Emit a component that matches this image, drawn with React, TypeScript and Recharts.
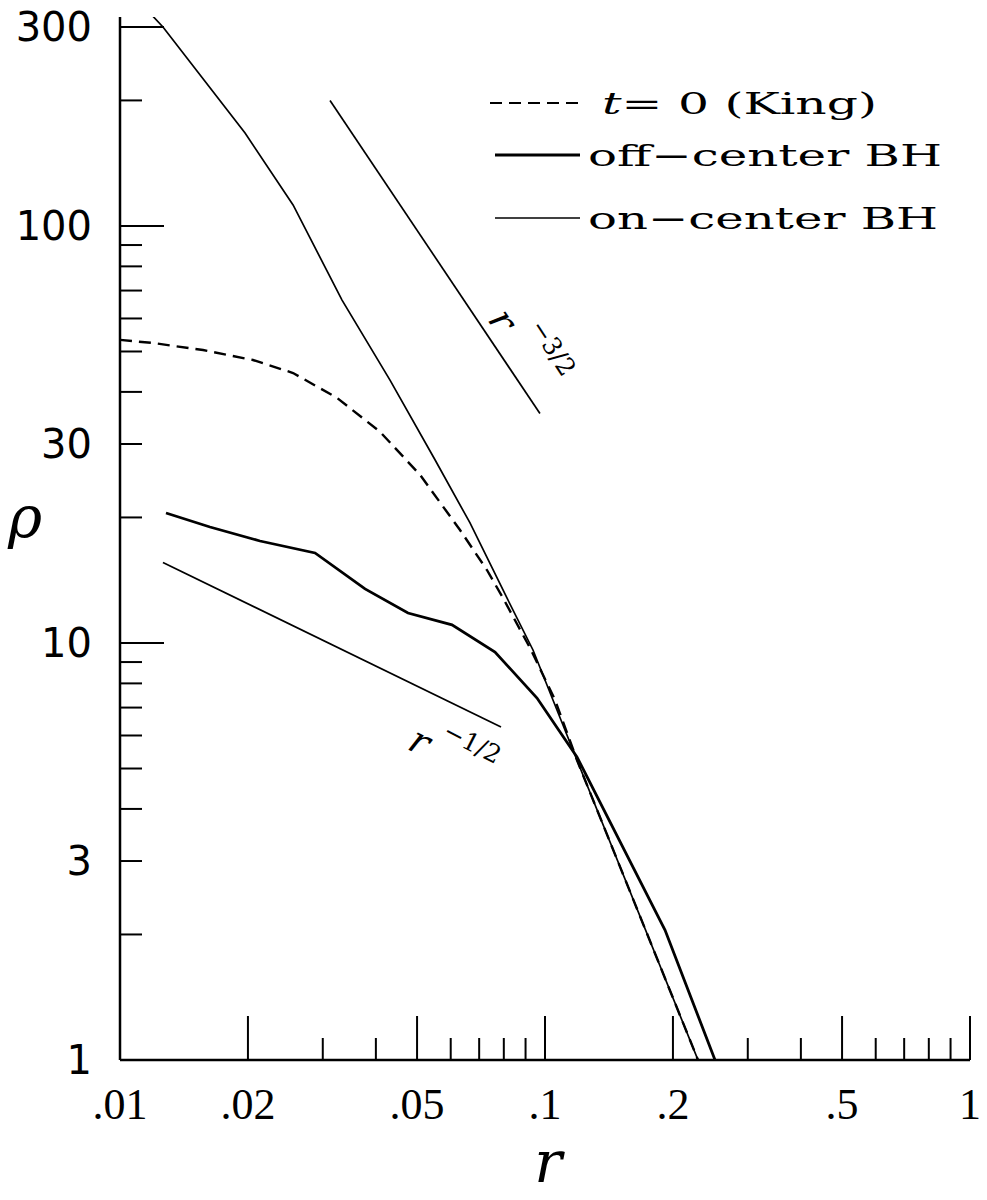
import React from 'react';
import { LineChart, Line, XAxis, YAxis, Legend, Label, ReferenceDot } from 'recharts';

// ---- data ----
const kingR = [0.01, 0.01196, 0.01568, 0.02056, 0.02554, 0.03241, 0.0409, 0.05082, 0.0631, 0.07302, 0.07963, 0.09221, 0.1056, 0.1189, 0.2291];
const kingRho = [53.3, 52.4, 50.4, 47.7, 44.4, 38.7, 32.1, 25.3, 18.66, 14.96, 12.82, 9.73, 7.3, 5.24, 1];

const offR = [0.01283, 0.01628, 0.02135, 0.02877, 0.03772, 0.0476, 0.06041, 0.07627, 0.09576, 0.1189, 0.1916, 0.2512];
const offRho = [20.5, 18.97, 17.56, 16.44, 13.48, 11.8, 11.05, 9.51, 7.38, 5.33, 2.05, 1];

const onR = [0.01176, 0.01262, 0.01969, 0.02554, 0.0333, 0.04318, 0.0551, 0.06661, 0.08137, 0.0937, 0.1189, 0.2291];
const onRho = [324, 300, 167, 112.3, 66.4, 42.7, 27.5, 19.4, 12.82, 9.62, 5.24, 1];

const slope32R = [0.0312, 0.0973];
const slope32Rho = [200, 35.5];
const slope12R = [0.01262, 0.0788];
const slope12Rho = [15.6, 6.29];

const xMajor = [0.01, 0.02, 0.05, 0.1, 0.2, 0.5, 1];
const xMajorLabels = ['.01', '.02', '.05', '.1', '.2', '.5', '1'];
const xMinor = [0.03, 0.04, 0.06, 0.07, 0.08, 0.09, 0.3, 0.4, 0.6, 0.7, 0.8, 0.9];

const yLong = [1, 10, 100, 300];
const yShort = [2, 3, 4, 5, 6, 7, 8, 9, 20, 30, 40, 50, 60, 70, 80, 90, 200];
const yLabelValues = [1, 3, 10, 30, 100, 300];
const yLabelTexts = ['1', '3', '10', '30', '100', '300'];

const seriesNames = ['t= 0 (King)', 'off−center BH', 'on−center BH'];

const zip = (xs: number[], ys: number[]) => xs.map((x, i) => ({ x, y: ys[i] }));
const kingData = zip(kingR, kingRho);
const offData = zip(offR, offRho);
const onData = zip(onR, onRho);
const s32Data = zip(slope32R, slope32Rho);
const s12Data = zip(slope12R, slope12Rho);

const xTicks = [...xMajor, ...xMinor].sort((a, b) => a - b);
const yTicks = [...yLong, ...yShort].sort((a, b) => a - b);

const SERIF = '"DejaVu Serif", "Liberation Serif", serif';
const SANS = '"DejaVu Sans", "Liberation Sans", sans-serif';

function XTick(props: any) {
  const { x, y, payload, side } = props;
  const v = payload.value;
  const idx = xMajor.indexOf(v);
  const len = idx >= 0 ? 44 : 22;
  const dir = side === 'bottom' ? -1 : 1;
  return (
    <g>
      <line x1={x} y1={y} x2={x} y2={y + dir * len} stroke="#000" strokeWidth={2} />
      {side === 'bottom' && idx >= 0 ? (
        <text x={x} y={y + 44} textAnchor="middle" dominantBaseline="central" fontFamily={'"Liberation Serif", serif'} fontSize={44} fill="#000">
          {xMajorLabels[idx]}
        </text>
      ) : null}
    </g>
  );
}

function YTick(props: any) {
  const { x, y, payload, side } = props;
  const v = payload.value;
  const len = yLong.indexOf(v) >= 0 ? 44 : 22;
  const dir = side === 'left' ? 1 : -1;
  const li = yLabelValues.indexOf(v);
  return (
    <g>
      <line x1={x} y1={y} x2={x + dir * len} y2={y} stroke="#000" strokeWidth={2} />
      {side === 'left' && li >= 0 ? (
        <text x={x - 28} y={y} textAnchor="end" dominantBaseline="central" fontFamily={SANS} fontSize={40} fill="#000">
          {yLabelTexts[li]}
        </text>
      ) : null}
    </g>
  );
}

function LegendBox() {
  // local coordinates inside the legend wrapper
  const rows = [
    { dash: '12 7', w: 2.2, y: 23, x1: 10, tx: 122, tl: 275 },
    { dash: undefined, w: 2.8, y: 75, x1: 15, tx: 108, tl: 354 },
    { dash: undefined, w: 1.6, y: 138, x1: 15, tx: 108, tl: 350 },
  ];
  return (
    <svg width={490} height={170} style={{ display: 'block', overflow: 'visible' }}>
      {rows.map((r, i) => (
        <g key={i}>
          <line x1={r.x1} y1={r.y} x2={100} y2={r.y} stroke="#000" strokeWidth={r.w} strokeDasharray={r.dash} />
          <text x={r.tx} y={r.y + 11} fontFamily={SERIF} fontSize={30} fill="#000" textLength={r.tl} lengthAdjust="spacingAndGlyphs">
            {i === 0 ? (
              <>
                <tspan fontStyle="italic">t</tspan>
                <tspan>{'=  0  (King)'}</tspan>
              </>
            ) : (
              seriesNames[i].replace(' ', '  ')
            )}
          </text>
        </g>
      ))}
    </svg>
  );
}

function PowerLabel(props: any) {
  const { cx, cy, angle, exp, ex, ey } = props;
  if (cx == null || cy == null) return <g />;
  return (
    <g transform={`translate(${cx},${cy}) rotate(${angle})`}>
      <text x={0} y={0} textAnchor="middle" dominantBaseline="central" fontFamily={SERIF} fontStyle="italic" fontSize={38} fill="#000">
        r
      </text>
      <text x={ex} y={ey} textAnchor="start" dominantBaseline="central" fontFamily={SERIF} fontSize={25} fill="#000">
        {exp}
      </text>
    </g>
  );
}

export default function App() {
  return (
    <div style={{ position: 'absolute', left: 0, top: 0, width: 987, height: 1200, background: '#fff' }}>
      <LineChart width={987} height={1200} margin={{ top: 17, right: 17, bottom: 0, left: 0 }}>
        <XAxis
          xAxisId="b"
          type="number"
          dataKey="x"
          scale="log"
          domain={[0.01, 1]}
          allowDataOverflow
          ticks={xTicks}
          interval={0}
          tickSize={0}
          tickMargin={0}
          height={140}
          orientation="bottom"
          axisLine={{ stroke: '#000', strokeWidth: 2.5 }}
          tick={(p: any) => <XTick {...p} side="bottom" />}
        >
          <Label
            content={(p: any) => {
              const vb = p.viewBox || { x: 120, y: 1060, width: 850, height: 140 };
              return (
                <text x={vb.x + vb.width / 2 + 3} y={vb.y + 122} textAnchor="middle" fontFamily={SERIF} fontStyle="italic" fontSize={58} fill="#000">
                  r
                </text>
              );
            }}
          />
        </XAxis>
        <XAxis
          xAxisId="t"
          type="number"
          dataKey="x"
          scale="log"
          domain={[0.01, 1]}
          allowDataOverflow
          ticks={xTicks}
          interval={0}
          tickSize={0}
          tickMargin={0}
          height={0}
          orientation="top"
          axisLine={{ stroke: '#000', strokeWidth: 2.5 }}
          tick={(p: any) => <XTick {...p} side="top" />}
        />
        <YAxis
          yAxisId="l"
          type="number"
          dataKey="y"
          scale="log"
          domain={[1, 317]}
          allowDataOverflow
          ticks={yTicks}
          interval={0}
          tickSize={0}
          tickMargin={0}
          width={120}
          orientation="left"
          axisLine={{ stroke: '#000', strokeWidth: 2.5 }}
          tick={(p: any) => <YTick {...p} side="left" />}
        >
          <Label
            content={(p: any) => {
              const vb = p.viewBox || { x: 0, y: 17, width: 120, height: 1043 };
              return (
                <text x={vb.x + 8} y={vb.y + 520} textAnchor="start" fontFamily={SERIF} fontStyle="italic" fontSize={58} fill="#000">
                  ρ
                </text>
              );
            }}
          />
        </YAxis>
        <YAxis
          yAxisId="r"
          type="number"
          dataKey="y"
          scale="log"
          domain={[1, 317]}
          allowDataOverflow
          ticks={yTicks}
          interval={0}
          tickSize={0}
          tickMargin={0}
          width={0}
          orientation="right"
          axisLine={{ stroke: '#000', strokeWidth: 2.5 }}
          tick={(p: any) => <YTick {...p} side="right" />}
        />
        <Legend
          layout="horizontal"
          verticalAlign="middle"
          align="center"
          wrapperStyle={{ position: 'absolute', left: 480, top: 80, width: 490, height: 170 }}
          content={() => <LegendBox />}
        />
        <Line xAxisId="b" yAxisId="l" data={kingData} dataKey="y" name={seriesNames[0]} type="linear" stroke="#000" strokeWidth={2.4} strokeDasharray="12 7" dot={false} isAnimationActive={false} />
        <Line xAxisId="b" yAxisId="l" data={offData} dataKey="y" name={seriesNames[1]} type="linear" stroke="#000" strokeWidth={2.8} dot={false} isAnimationActive={false} />
        <Line xAxisId="b" yAxisId="l" data={onData} dataKey="y" name={seriesNames[2]} type="linear" stroke="#000" strokeWidth={1.7} dot={false} isAnimationActive={false} />
        <Line xAxisId="b" yAxisId="l" data={s32Data} dataKey="y" name="r^-3/2" legendType="none" type="linear" stroke="#000" strokeWidth={1.7} dot={false} isAnimationActive={false} />
        <Line xAxisId="b" yAxisId="l" data={s12Data} dataKey="y" name="r^-1/2" legendType="none" type="linear" stroke="#000" strokeWidth={1.7} dot={false} isAnimationActive={false} />
        <ReferenceDot xAxisId="b" yAxisId="l" x={0.0796} y={59.5} r={0} ifOverflow="visible" shape={(p: any) => <PowerLabel {...p} angle={57} exp="−3/2" ex={20} ey={-27} />} />
        <ReferenceDot xAxisId="b" yAxisId="l" x={0.0508} y={5.82} r={0} ifOverflow="visible" shape={(p: any) => <PowerLabel {...p} angle={27} exp="−1/2" ex={17} ey={-22} />} />
      </LineChart>
    </div>
  );
}
